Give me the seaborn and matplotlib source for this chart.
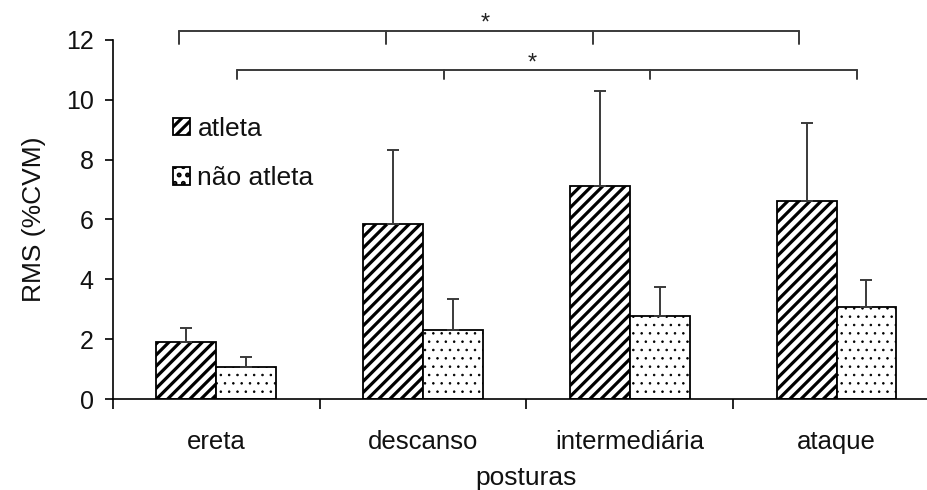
import matplotlib
matplotlib.use("Agg")
import matplotlib.pyplot as plt
from matplotlib.patches import Patch
import pandas as pd
import seaborn as sns

# valores (RMS em %CVM)
posturas = ["ereta", "descanso", "intermediária", "ataque"]
grupos = ["atleta", "não atleta"]
atleta_media = [1.91, 5.86, 7.13, 6.63]
atleta_dp = [0.46, 2.45, 3.16, 2.60]
nao_atleta_media = [1.06, 2.29, 2.78, 3.06]
nao_atleta_dp = [0.35, 1.04, 0.96, 0.92]

hachuras = {"atleta": "///", "não atleta": ".."}
espessura_hachura = {"atleta": 2.3, "não atleta": 0.6}

df = pd.DataFrame({
    "postura": posturas * 2,
    "grupo": [grupos[0]] * 4 + [grupos[1]] * 4,
    "rms": atleta_media + nao_atleta_media,
    "dp": atleta_dp + nao_atleta_dp,
})

sns.set_style("ticks")
plt.rcParams["font.family"] = ["Liberation Sans", "DejaVu Sans"]
plt.rcParams["hatch.linewidth"] = 2.3
plt.rcParams["hatch.color"] = "black"
for chave in ["text.color", "axes.labelcolor", "xtick.labelcolor", "ytick.labelcolor"]:
    plt.rcParams[chave] = "#111111"


def estilo_hachura(p, grupo):
    p.set_hatch(hachuras[grupo])
    if hasattr(p, "set_hatch_linewidth"):
        p.set_hatch_linewidth(espessura_hachura[grupo])


fig = plt.figure(figsize=(9.28, 4.90), dpi=100)
ax = fig.add_axes([0.1218, 0.1857, 0.891, 0.7327])

sns.barplot(data=df, x="postura", y="rms", hue="grupo", order=posturas,
            hue_order=grupos, palette=["white", "white"], width=0.58,
            errorbar=None, legend=False, ax=ax)

for grupo, cont in zip(grupos, ax.containers):
    sub = df[df["grupo"] == grupo].set_index("postura").loc[posturas]
    xs = []
    for bar in cont:
        bar.set_edgecolor("black")
        bar.set_linewidth(1.3)
        estilo_hachura(bar, grupo)
        xs.append(bar.get_x() + bar.get_width() / 2)
    ax.errorbar(xs, sub["rms"], yerr=[[0] * len(xs), sub["dp"]], fmt="none",
                ecolor="#3a3a3a", elinewidth=1.4, capsize=4, capthick=1.4)


# colchetes de significância
def colchete(offset, y, y_base, x_estrela, y_estrela):
    xs = [i + offset for i in range(len(posturas))]
    ax.plot([xs[0], xs[-1]], [y, y], color="#3a3a3a", lw=1.4, clip_on=False)
    for x in xs:
        ax.plot([x, x], [y, y_base], color="#3a3a3a", lw=1.4, clip_on=False)
    ax.text(x_estrela, y_estrela, "*", ha="center", va="center", fontsize=17,
            color="#222222", clip_on=False)


colchete(-0.18, 12.3, 11.88, 1.30, 12.55)
colchete(0.10, 10.99, 10.7, 1.53, 11.2)

ax.set_xlim(-0.5, 3.5)
ax.set_ylim(0, 12)
ax.set_yticks(range(0, 13, 2))
ax.set_xticks(range(len(posturas)))
ax.set_xticklabels(posturas)
ax.set_xticks([i - 0.5 for i in range(len(posturas) + 1)], minor=True)
ax.tick_params(axis="x", which="major", length=0, pad=22, labelsize=18.5)
ax.tick_params(axis="x", which="minor", length=7, width=1.2, color="black")
ax.tick_params(axis="y", length=6, width=1.2, color="black", labelsize=18, pad=8)

ax.set_xlabel("posturas", fontsize=19, labelpad=9)
ax.set_ylabel("RMS (%CVM)", fontsize=19, labelpad=14)

sns.despine(ax=ax)
for lado in ["left", "bottom"]:
    ax.spines[lado].set_color("black")
    ax.spines[lado].set_linewidth(1.2)

alcas = []
for g in grupos:
    p = Patch(facecolor="white", edgecolor="black", lw=1.3)
    estilo_hachura(p, g)
    alcas.append(p)
ax.legend(alcas, grupos, loc="upper left", bbox_to_anchor=(0.06, 0.815),
          frameon=False, fontsize=19, handlelength=0.65, handleheight=0.65,
          handletextpad=0.27, labelspacing=0.95, borderaxespad=0)

fig.savefig("out.png", dpi=100)
